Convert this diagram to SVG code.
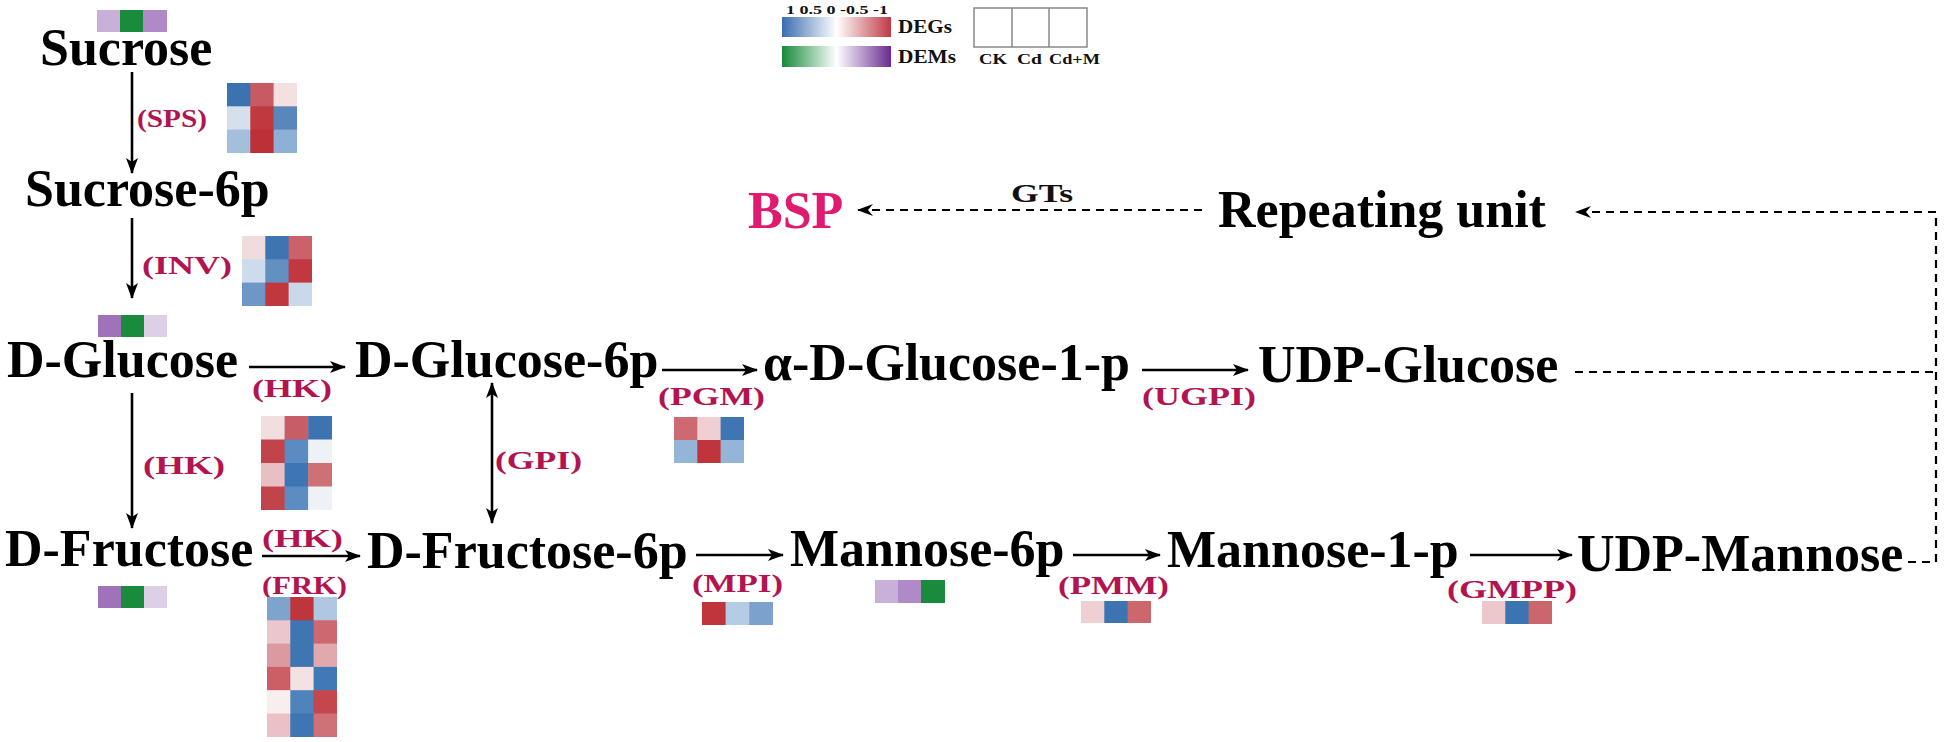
<svg xmlns="http://www.w3.org/2000/svg" width="1949" height="742" viewBox="0 0 1949 742">
<style>
.m{font-family:"Liberation Serif","Times New Roman",serif;font-weight:bold;font-size:52px;fill:#000}
.e{font-family:"Liberation Serif","Times New Roman",serif;font-weight:bold;font-size:26px;fill:#b3144f}
.s{font-family:"Liberation Serif","Times New Roman",serif;font-weight:bold;fill:#111}
.a{stroke:#000;stroke-width:2.6;fill:none}
.d{stroke:#000;stroke-width:2.2;fill:none;stroke-dasharray:8 6}
</style>
<defs>
<marker id="ah" viewBox="0 0 16 12" refX="15" refY="6" markerWidth="16" markerHeight="12" markerUnits="userSpaceOnUse" orient="auto-start-reverse"><path d="M0,0 L16,6 L0,12 L4,6 z" fill="#000"/></marker>
<marker id="dh" viewBox="0 0 16 12" refX="15" refY="6" markerWidth="16" markerHeight="12" markerUnits="userSpaceOnUse" orient="auto"><path d="M0,0 L16,6 L0,12 L5,6 z" fill="#000"/></marker>
<linearGradient id="gDEG" x1="0" x2="1" y1="0" y2="0"><stop offset="0" stop-color="#3a6db0"/><stop offset="0.5" stop-color="#ffffff"/><stop offset="1" stop-color="#bf3a45"/></linearGradient>
<linearGradient id="gDEM" x1="0" x2="1" y1="0" y2="0"><stop offset="0" stop-color="#158a3a"/><stop offset="0.5" stop-color="#ffffff"/><stop offset="1" stop-color="#6b2a92"/></linearGradient>
</defs>
<rect width="1949" height="742" fill="#fff"/>

<g id="legend">
<text class="s" x="786" y="14" font-size="13" textLength="102" lengthAdjust="spacingAndGlyphs">1 0.5 0 -0.5 -1</text>
<rect x="782" y="17" width="109" height="20" fill="url(#gDEG)"/>
<rect x="782" y="46" width="109" height="21" fill="url(#gDEM)"/>
<text class="s" x="898" y="33" font-size="19" textLength="54" lengthAdjust="spacingAndGlyphs">DEGs</text>
<text class="s" x="898" y="63" font-size="19" textLength="58" lengthAdjust="spacingAndGlyphs">DEMs</text>
<rect x="974" y="8" width="113" height="39" fill="#fff" stroke="#888" stroke-width="1.5"/>
<line x1="1012" y1="8" x2="1012" y2="47" stroke="#888" stroke-width="1.5"/>
<line x1="1049" y1="8" x2="1049" y2="47" stroke="#888" stroke-width="1.5"/>
<text class="s" x="979" y="64" font-size="15" textLength="28" lengthAdjust="spacingAndGlyphs">CK</text>
<text class="s" x="1017" y="64" font-size="15" textLength="25" lengthAdjust="spacingAndGlyphs">Cd</text>
<text class="s" x="1049" y="64" font-size="15" textLength="51" lengthAdjust="spacingAndGlyphs">Cd+M</text>
</g>

<g id="connectors">
<line class="a" x1="132" y1="72" x2="132" y2="173" marker-end="url(#ah)"/>
<line class="a" x1="132" y1="218" x2="132" y2="298" marker-end="url(#ah)"/>
<line class="a" x1="132" y1="393" x2="132" y2="528" marker-end="url(#ah)"/>
<line class="a" x1="249" y1="367" x2="345" y2="367" marker-end="url(#ah)"/>
<line class="a" x1="492" y1="383" x2="492" y2="523" marker-start="url(#ah)" marker-end="url(#ah)"/>
<line class="a" x1="262" y1="556" x2="360" y2="556" marker-end="url(#ah)"/>
<line class="a" x1="662" y1="370" x2="757" y2="370" marker-end="url(#ah)"/>
<line class="a" x1="1142" y1="370" x2="1248" y2="370" marker-end="url(#ah)"/>
<line class="a" x1="696" y1="555" x2="783" y2="555" marker-end="url(#ah)"/>
<line class="a" x1="1073" y1="555" x2="1160" y2="555" marker-end="url(#ah)"/>
<line class="a" x1="1470" y1="555" x2="1572" y2="555" marker-end="url(#ah)"/>
<line class="d" x1="1202" y1="210" x2="858" y2="210" marker-end="url(#dh)"/>
<path class="d" d="M1575,372 H1936"/>
<path class="d" d="M1908,562 H1936 V212 H1576" marker-end="url(#dh)"/>
</g>

<g id="labels">
<text class="e" x="137" y="127" textLength="70" lengthAdjust="spacingAndGlyphs">(SPS)</text>
<text class="e" x="142" y="274" textLength="90" lengthAdjust="spacingAndGlyphs">(INV)</text>
<text class="e" x="143" y="474" textLength="82" lengthAdjust="spacingAndGlyphs">(HK)</text>
<text class="e" x="252" y="397" textLength="80" lengthAdjust="spacingAndGlyphs">(HK)</text>
<text class="e" x="495" y="469" textLength="87" lengthAdjust="spacingAndGlyphs">(GPI)</text>
<text class="e" x="262" y="547" textLength="81" lengthAdjust="spacingAndGlyphs">(HK)</text>
<text class="e" x="262" y="594" textLength="85" lengthAdjust="spacingAndGlyphs">(FRK)</text>
<text class="e" x="658" y="405" textLength="107" lengthAdjust="spacingAndGlyphs">(PGM)</text>
<text class="e" x="1142" y="405" textLength="114" lengthAdjust="spacingAndGlyphs">(UGPI)</text>
<text class="e" x="692" y="592" textLength="91" lengthAdjust="spacingAndGlyphs">(MPI)</text>
<text class="e" x="1058" y="594" textLength="111" lengthAdjust="spacingAndGlyphs">(PMM)</text>
<text class="e" x="1447" y="598" textLength="130" lengthAdjust="spacingAndGlyphs">(GMPP)</text>
<text class="s" x="1011" y="202" font-size="26" textLength="62" lengthAdjust="spacingAndGlyphs">GTs</text>
</g>

<g id="n-sucrose"><text class="m" x="40" y="65">Sucrose</text>
<rect x="97" y="10" width="24" height="22" fill="#c9b0d8"/><rect x="120" y="10" width="24" height="22" fill="#1a8a3c"/><rect x="143" y="10" width="24" height="22" fill="#b08ac6"/></g>
<g id="n-sucrose6p"><text class="m" x="25" y="206">Sucrose-6p</text></g>
<g id="n-dglucose"><text class="m" x="7" y="377">D-Glucose</text>
<rect x="98" y="315" width="24" height="22" fill="#9f72ba"/><rect x="121" y="315" width="24" height="22" fill="#1a8a3c"/><rect x="144" y="315" width="23" height="22" fill="#ddd0e6"/></g>
<g id="n-dfructose"><text class="m" x="5" y="566">D-Fructose</text>
<rect x="98" y="586" width="24" height="22" fill="#9f72ba"/><rect x="121" y="586" width="24" height="22" fill="#1a8a3c"/><rect x="144" y="586" width="23" height="22" fill="#ddd0e6"/></g>
<g id="n-dglucose6p"><text class="m" x="355" y="377">D-Glucose-6p</text></g>
<g id="n-dfructose6p"><text class="m" x="367" y="568">D-Fructose-6p</text></g>
<g id="n-aglucose1p"><text class="m" x="763" y="380">α-D-Glucose-1-p</text></g>
<g id="n-udpglucose"><text class="m" x="1258" y="382">UDP-Glucose</text></g>
<g id="n-mannose6p"><text class="m" x="790" y="566">Mannose-6p</text>
<rect x="875" y="580" width="24" height="23" fill="#c9b0d8"/><rect x="898" y="580" width="24" height="23" fill="#b08ac8"/><rect x="921" y="580" width="24" height="23" fill="#1a8a3c"/></g>
<g id="n-mannose1p"><text class="m" x="1167" y="567">Mannose-1-p</text></g>
<g id="n-udpmannose"><text class="m" x="1577" y="571">UDP-Mannose</text></g>
<g id="n-repeating"><text class="m" x="1218" y="227">Repeating unit</text></g>
<g id="n-bsp"><text class="m" x="748" y="228" style="fill:#e01a6e">BSP</text></g>

<g id="heat-sps">
<rect x="227" y="83" width="24" height="24" fill="#3b72b0"/><rect x="250.3" y="83" width="24" height="24" fill="#c85a64"/><rect x="273.6" y="83" width="23.4" height="24" fill="#f4e0e0"/>
<rect x="227" y="106.3" width="24" height="24" fill="#d5e0ec"/><rect x="250.3" y="106.3" width="24" height="24" fill="#c0393f"/><rect x="273.6" y="106.3" width="23.4" height="24" fill="#5a87bb"/>
<rect x="227" y="129.6" width="24" height="23.4" fill="#a3bfdb"/><rect x="250.3" y="129.6" width="24" height="23.4" fill="#bd3038"/><rect x="273.6" y="129.6" width="23.4" height="23.4" fill="#8eb0d4"/>
</g>
<g id="heat-inv">
<rect x="242" y="236" width="24" height="24" fill="#f0dcdc"/><rect x="265.3" y="236" width="24" height="24" fill="#3e74b1"/><rect x="288.6" y="236" width="23.4" height="24" fill="#cb6169"/>
<rect x="242" y="259.3" width="24" height="24" fill="#cddcec"/><rect x="265.3" y="259.3" width="24" height="24" fill="#6390c2"/><rect x="288.6" y="259.3" width="23.4" height="24" fill="#c2383f"/>
<rect x="242" y="282.6" width="24" height="23.4" fill="#6d97c6"/><rect x="265.3" y="282.6" width="24" height="23.4" fill="#c1373e"/><rect x="288.6" y="282.6" width="23.4" height="23.4" fill="#c9d9ea"/>
</g>
<g id="heat-hk">
<rect x="261" y="416" width="24" height="24" fill="#f2dede"/><rect x="284.6" y="416" width="24" height="24" fill="#c75e66"/><rect x="308.2" y="416" width="23.8" height="24" fill="#3d73b1"/>
<rect x="261" y="439.5" width="24" height="24" fill="#c3434a"/><rect x="284.6" y="439.5" width="24" height="24" fill="#5b8bc0"/><rect x="308.2" y="439.5" width="23.8" height="24" fill="#eef2f6"/>
<rect x="261" y="463" width="24" height="24" fill="#e8bfc3"/><rect x="284.6" y="463" width="24" height="24" fill="#3e76b3"/><rect x="308.2" y="463" width="23.8" height="24" fill="#cf6f76"/>
<rect x="261" y="486.5" width="24" height="23.5" fill="#c2444b"/><rect x="284.6" y="486.5" width="24" height="23.5" fill="#5c8cc0"/><rect x="308.2" y="486.5" width="23.8" height="23.5" fill="#eef2f6"/>
</g>
<g id="heat-frk">
<rect x="267" y="597" width="24" height="24" fill="#7ea3cc"/><rect x="290.3" y="597" width="24" height="24" fill="#bf353c"/><rect x="313.6" y="597" width="23.4" height="24" fill="#afc7e0"/>
<rect x="267" y="620.3" width="24" height="24" fill="#ebc6ca"/><rect x="290.3" y="620.3" width="24" height="24" fill="#3e75b2"/><rect x="313.6" y="620.3" width="23.4" height="24" fill="#cd6870"/>
<rect x="267" y="643.6" width="24" height="24" fill="#dc9aa0"/><rect x="290.3" y="643.6" width="24" height="24" fill="#3e75b2"/><rect x="313.6" y="643.6" width="23.4" height="24" fill="#e1a9ae"/>
<rect x="267" y="666.9" width="24" height="24" fill="#cb5e66"/><rect x="290.3" y="666.9" width="24" height="24" fill="#f4e2e2"/><rect x="313.6" y="666.9" width="23.4" height="24" fill="#4079b5"/>
<rect x="267" y="690.2" width="24" height="24" fill="#f8eeee"/><rect x="290.3" y="690.2" width="24" height="24" fill="#4f83bb"/><rect x="313.6" y="690.2" width="23.4" height="24" fill="#c5474e"/>
<rect x="267" y="713.5" width="24" height="23.5" fill="#ebc1c5"/><rect x="290.3" y="713.5" width="24" height="23.5" fill="#3e75b2"/><rect x="313.6" y="713.5" width="23.4" height="23.5" fill="#d07178"/>
</g>
<g id="heat-pgm">
<rect x="674" y="417" width="24" height="23.5" fill="#cd6a71"/><rect x="697.3" y="417" width="24" height="23.5" fill="#efcfd2"/><rect x="720.6" y="417" width="23.4" height="23.5" fill="#3e75b2"/>
<rect x="674" y="440" width="24" height="23" fill="#94b5d7"/><rect x="697.3" y="440" width="24" height="23" fill="#c0353c"/><rect x="720.6" y="440" width="23.4" height="23" fill="#94b5d7"/>
</g>
<g id="heat-mpi">
<rect x="702" y="602" width="24" height="23" fill="#c0353c"/><rect x="725.6" y="602" width="24" height="23" fill="#b5cde4"/><rect x="749.2" y="602" width="23.8" height="23" fill="#7ba2cc"/>
</g>
<g id="heat-pmm">
<rect x="1081" y="601" width="24" height="22" fill="#f0cfd2"/><rect x="1104.3" y="601" width="24" height="22" fill="#3c74b1"/><rect x="1127.6" y="601" width="23.4" height="22" fill="#cc676e"/>
</g>
<g id="heat-gmpp">
<rect x="1482" y="601" width="24" height="23" fill="#ecc7cb"/><rect x="1505.3" y="601" width="24" height="23" fill="#3c74b1"/><rect x="1528.6" y="601" width="23.4" height="23" fill="#cb666d"/>
</g>
</svg>
